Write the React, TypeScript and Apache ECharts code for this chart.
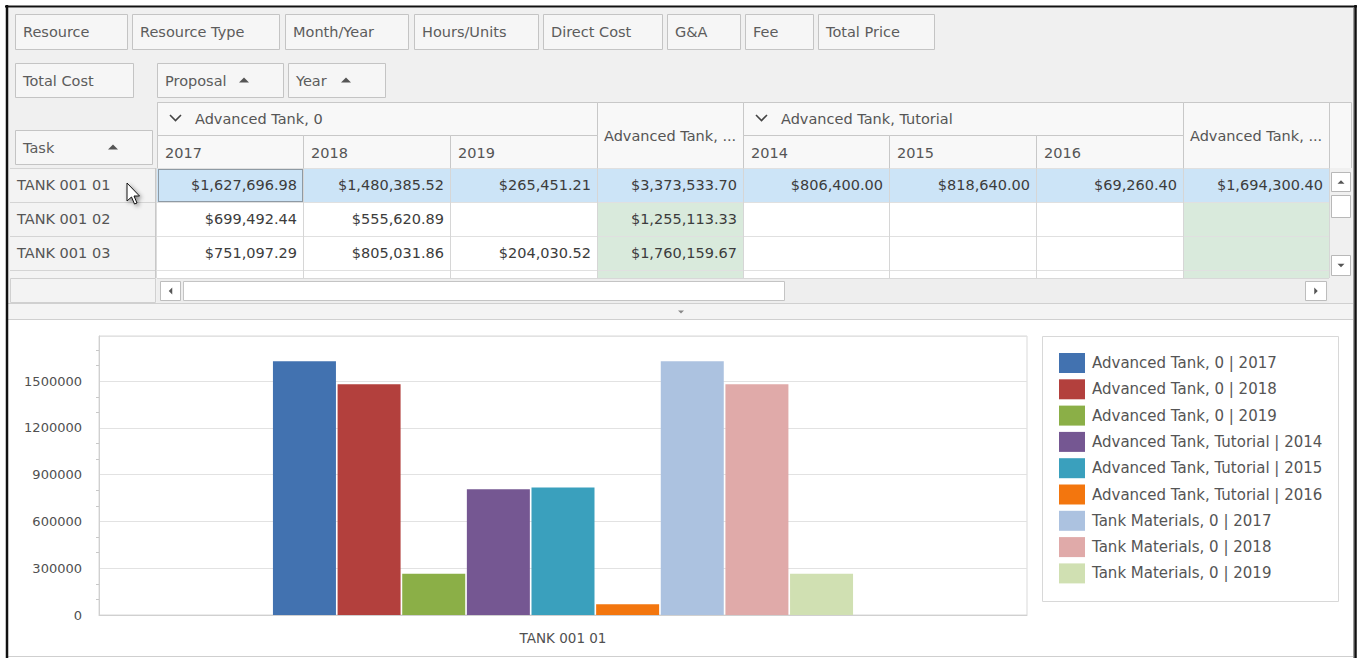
import React, { useEffect, useRef } from "react";
import * as echarts from "echarts";

// ---------- data ----------
const categories = ["TANK 001 01"];
const seriesNames = [
  "Advanced Tank, 0 | 2017",
  "Advanced Tank, 0 | 2018",
  "Advanced Tank, 0 | 2019",
  "Advanced Tank, Tutorial | 2014",
  "Advanced Tank, Tutorial | 2015",
  "Advanced Tank, Tutorial | 2016",
  "Tank Materials, 0 | 2017",
  "Tank Materials, 0 | 2018",
  "Tank Materials, 0 | 2019",
];
const seriesValues = [1627696.98, 1480385.52, 265451.21, 806400.0, 818640.0, 69260.4, 1627696.98, 1480385.52, 265451.21];
const seriesColors = ["#4272b0", "#b3403d", "#8baf47", "#755792", "#3aa0bd", "#f3760e", "#acc2e0", "#e0aaa9", "#d0e0b2"];
const yMax = 1790000;
const yInterval = 300000;

const fieldButtonsRow1 = ["Resource", "Resource Type", "Month/Year", "Hours/Units", "Direct Cost", "G&A", "Fee", "Total Price"];
const dataFieldButton = "Total Cost";
const columnFieldButtons = ["Proposal", "Year"];
const rowFieldButton = "Task";
const proposalGroups = ["Advanced Tank, 0", "Advanced Tank, Tutorial"];
const yearsGroup1 = ["2017", "2018", "2019"];
const yearsGroup2 = ["2014", "2015", "2016"];
const totalHeader = "Advanced Tank, ...";
const rowHeaders = ["TANK 001 01", "TANK 001 02", "TANK 001 03"];
const gridValues = [
  ["$1,627,696.98", "$1,480,385.52", "$265,451.21", "$3,373,533.70", "$806,400.00", "$818,640.00", "$69,260.40", "$1,694,300.40"],
  ["$699,492.44", "$555,620.89", "", "$1,255,113.33", "", "", "", ""],
  ["$751,097.29", "$805,031.86", "$204,030.52", "$1,760,159.67", "", "", "", ""],
];

// ---------- layout ----------
const FONT = '"DejaVu Sans", sans-serif';
const GRID_FS = 14.5;
const btn1Pos = [[15, 112], [132, 147], [285, 123], [414, 124], [543, 119], [667, 73], [745, 68], [818, 116]];
const colX = [157, 303, 450, 597, 743, 889, 1036, 1183, 1329];
const rowY = [168, 202, 236, 270];

function rect(x: number, y: number, w: number, h: number, fill: string, stroke?: string, extra: any = {}) {
  return {
    type: "rect",
    shape: { x, y, width: w, height: h },
    style: { fill, stroke: stroke || null, lineWidth: stroke ? 1 : 0, ...extra },
  };
}
function line(x1: number, y1: number, x2: number, y2: number, color: string, lw = 1) {
  return { type: "line", shape: { x1, y1, x2, y2 }, style: { stroke: color, lineWidth: lw } };
}
function text(x: number, y: number, str: string, align = "left", color = "#555555", size = GRID_FS) {
  return {
    type: "text",
    x,
    y,
    style: {
      text: str,
      fill: color,
      font: `${size}px ${FONT}`,
      align,
      verticalAlign: "middle",
      textAlign: align,
      textVerticalAlign: "middle",
    },
  };
}
function tri(cx: number, cy: number, dir: "up" | "down" | "left" | "right", s = 5, color = "#555") {
  let pts: number[][] = [];
  if (dir === "up") pts = [[cx - s, cy + s / 2], [cx + s, cy + s / 2], [cx, cy - s / 2]];
  if (dir === "down") pts = [[cx - s, cy - s / 2], [cx + s, cy - s / 2], [cx, cy + s / 2]];
  if (dir === "left") pts = [[cx + s / 2, cy - s], [cx + s / 2, cy + s], [cx - s / 2, cy]];
  if (dir === "right") pts = [[cx - s / 2, cy - s], [cx - s / 2, cy + s], [cx + s / 2, cy]];
  return { type: "polygon", shape: { points: pts }, style: { fill: color } };
}
function chevron(x: number, y: number) {
  return {
    type: "polyline",
    shape: { points: [[x, y - 3], [x + 5.5, y + 2.5], [x + 11, y - 3]] },
    style: { stroke: "#444", lineWidth: 1.6, fill: null },
  };
}
function button(x: number, y: number, w: number, h: number, label: string) {
  return [rect(x + 0.5, y + 0.5, w, h, "#f6f6f6", "#c4c4c4"), text(x + 8, y + h / 2 + 0.5, label, "left", "#5c5c5c")];
}

function buildGraphic() {
  const els: any[] = [];
  // page backgrounds and frame
  els.push(rect(0, 0, 1358, 658, "#ffffff"));
  els.push(rect(8, 8, 1346, 296, "#f0f0f0"));
  els.push(rect(8, 303, 1346, 17, "#f4f4f4"));
  els.push(line(8, 303.5, 1354, 303.5, "#d0d0d0"));
  els.push(line(8, 319.5, 1354, 319.5, "#d0d0d0"));
  els.push(tri(681, 312, "down", 3, "#888"));
  els.push(rect(8, 320, 1346, 336, "#ffffff"));
  els.push(line(8, 656.5, 1354, 656.5, "#cfcfcf"));

  // field buttons
  fieldButtonsRow1.forEach((f, i) => els.push(...button(btn1Pos[i][0], 14, btn1Pos[i][1], 35, f)));
  els.push(...button(15, 63, 118, 34, dataFieldButton));
  els.push(...button(157, 63, 126, 34, columnFieldButtons[0]));
  els.push(tri(244, 80, "up", 5));
  els.push(...button(288, 63, 97, 34, columnFieldButtons[1]));
  els.push(tri(346, 80, "up", 5));
  els.push(...button(15, 130, 137, 34, rowFieldButton));
  els.push(tri(113, 147, "up", 5));

  // column headers
  const hdrFill = "#f8f8f8";
  const hdrLine = "#c8c8c8";
  els.push(rect(157.5, 102.5, 1194, 66, hdrFill, hdrLine));
  const groupSpans = [[colX[0], colX[3]], [colX[4], colX[7]]];
  groupSpans.forEach((g, i) => {
    els.push(rect(g[0] + 0.5, 102.5, g[1] - g[0], 33, hdrFill, hdrLine));
    els.push(chevron(g[0] + 13, 118));
    els.push(text(g[0] + 38, 119, proposalGroups[i]));
  });
  [colX[3], colX[7]].forEach((x) => {
    els.push(rect(x + 0.5, 102.5, 146, 66, hdrFill, hdrLine));
    els.push(text(x + 7, 136, totalHeader));
  });
  const years = [...yearsGroup1, null, ...yearsGroup2];
  years.forEach((yr, i) => {
    if (!yr) return;
    els.push(rect(colX[i] + 0.5, 135.5, colX[i + 1] - colX[i], 33, hdrFill, hdrLine));
    els.push(text(colX[i] + 8, 153, yr));
  });

  // row header column
  els.push(rect(10, 168, 146, 110, "#f3f3f3"));
  els.push(line(155.5, 168, 155.5, 278, "#c8c8c8", 2));
  rowY.forEach((y, r) => {
    const h = r < 3 ? 34 : 8;
    els.push(rect(10, y, 145, h, "#f3f3f3"));
    if (r < 3) els.push(text(17, y + 17, rowHeaders[r], "left", "#555555"));
    for (let c = 0; c < 8; c++) {
      let fill = "#ffffff";
      if (c === 3 || c === 7) fill = "#d9eadc";
      if (r === 0) fill = "#cce4f7";
      els.push(rect(colX[c], y, colX[c + 1] - colX[c], h, fill));
      if (r < 3 && gridValues[r][c]) {
        els.push(text(colX[c + 1] - 6, y + 17, gridValues[r][c], "right", "#3c3c3c"));
      }
    }
    els.push(line(10, y + 0.5, 155, y + 0.5, "#d4d4d4"));
    els.push(line(157, y + 0.5, 1329, y + 0.5, "#e0e0e0"));
  });
  colX.forEach((x, i) => {
    if (i === 0) return;
    els.push(line(x + 0.5, 168, x + 0.5, 278, "#d6d6d6"));
  });
  els.push({
    type: "rect",
    shape: { x: 158.5, y: 169.5, width: 144, height: 32 },
    style: { fill: null, stroke: "#505050", lineWidth: 1, lineDash: [1, 1] },
  });

  // vertical scroll bar
  els.push(rect(1330, 168, 22, 110, "#f0f0f0"));
  els.push(rect(1331.5, 172.5, 19, 19, "#ffffff", "#b8b8b8"));
  els.push(tri(1341, 182, "up", 3.5, "#555"));
  els.push(rect(1331.5, 195.5, 19, 22, "#ffffff", "#b8b8b8"));
  els.push(rect(1331.5, 255.5, 19, 20, "#ffffff", "#b8b8b8"));
  els.push(tri(1341, 265.5, "down", 3.5, "#555"));

  // horizontal scroll bar row
  els.push(rect(10.5, 278.5, 145, 24, "#f3f3f3", "#d0d0d0"));
  els.push(rect(157, 278, 1196, 25, "#eeeeee"));
  els.push(line(157, 278.5, 1352, 278.5, "#d8d8d8"));
  els.push(rect(160.5, 281.5, 20, 19, "#ffffff", "#bdbdbd"));
  els.push(tri(170.5, 291, "left", 3.5, "#555"));
  els.push(rect(183.5, 281.5, 601, 19, "#ffffff", "#c4c4c4"));
  els.push(rect(1305.5, 281.5, 21, 19, "#ffffff", "#bdbdbd"));
  els.push(tri(1316, 291, "right", 3.5, "#555"));
  els.push(rect(1329, 278, 24, 25, "#f0f0f0"));

  // mouse cursor
  const cx = 127, cy = 183;
  const arrow = [[0, 0], [0, 18], [4.5, 14], [7.5, 21], [10, 20], [7, 13], [12.5, 13]].map((p) => [p[0] + cx, p[1] + cy]);
  els.push({
    type: "polygon",
    shape: { points: arrow },
    style: { fill: "#ffffff", stroke: "#111", lineWidth: 1, shadowBlur: 4, shadowColor: "rgba(0,0,0,0.45)", shadowOffsetX: 2, shadowOffsetY: 2 },
  });

  // legend box
  els.push(rect(1042.5, 336.5, 296, 265, "#ffffff", "#d8d8d8"));

  // window frame
  els.push(line(7, 5, 7, 658, "#111", 2.5));
  els.push(line(5, 6.5, 1357, 6.5, "#111", 2));
  els.push(line(1353.5, 8, 1353.5, 658, "#9a9a9a", 1));
  els.push(line(1355.5, 5, 1355.5, 658, "#111", 2.5));
  return els;
}

export default function App() {
  const ref = useRef<HTMLDivElement>(null);
  useEffect(() => {
    if (!ref.current) return;
    const chart = echarts.init(ref.current, undefined, { renderer: "svg", width: 1358, height: 658 });
    const option: any = {
      animation: false,
      backgroundColor: "#ffffff",
      graphic: { elements: buildGraphic() },
      grid: {
        left: 99,
        top: 336,
        width: 928,
        height: 279,
        show: true,
        borderColor: "#d9d9d9",
        borderWidth: 1,
        backgroundColor: "transparent",
        z: 1,
      },
      legend: {
        data: seriesNames,
        orient: "vertical",
        left: 1059,
        top: 353,
        padding: 0,
        itemWidth: 26,
        itemHeight: 20,
        itemGap: 6.3,
        icon: "rect",
        selectedMode: false,
        textStyle: { color: "#555555", fontSize: 15, fontFamily: FONT, padding: [0, 0, 0, 2], lineHeight: 20 },
      },
      xAxis: {
        type: "category",
        data: categories,
        z: 3,
        axisLine: { show: true, lineStyle: { color: "#d0d0d0" } },
        axisTick: { show: false },
        axisLabel: { color: "#505050", fontSize: 13.5, fontFamily: FONT, margin: 16 },
        splitLine: { show: false },
      },
      yAxis: {
        type: "value",
        min: 0,
        max: yMax,
        interval: yInterval,
        z: 3,
        axisLine: { show: true, lineStyle: { color: "#d0d0d0" } },
        axisTick: { show: false },
        minorTick: { show: true, splitNumber: 3, length: 3, lineStyle: { color: "#c8c8c8" } },
        axisLabel: {
          color: "#505050",
          fontSize: 13,
          fontFamily: FONT,
          margin: 17,
          showMaxLabel: false,
          formatter: (v: number) => String(v),
        },
        splitLine: { show: true, lineStyle: { color: "#e2e2e2" } },
      },
      series: seriesNames.map((name, i) => ({
        name,
        type: "bar",
        data: [seriesValues[i]],
        barWidth: 63,
        barGap: "2.6%",
        z: 4,
        itemStyle: { color: seriesColors[i] },
      })),
    };
    chart.setOption(option);
    return () => chart.dispose();
  }, []);
  return <div ref={ref} style={{ position: "fixed", left: 0, top: 0, width: 1358, height: 658 }} />;
}
